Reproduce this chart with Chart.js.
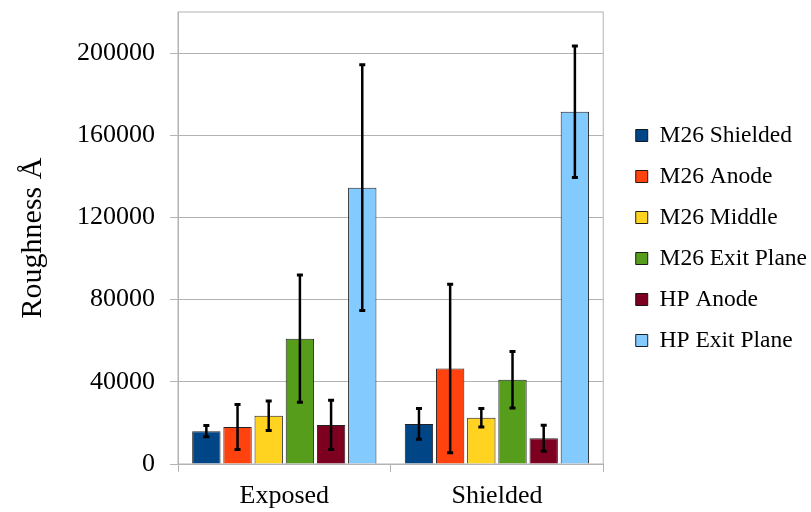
<!DOCTYPE html>
<html>
<head>
<meta charset="utf-8">
<script src="https://cdn.jsdelivr.net/npm/chart.js@4/dist/chart.umd.min.js"></script>
<style>
  html, body { margin: 0; padding: 0; background: #fff; }
  #wrap { width: 811px; height: 512px; }
</style>
</head>
<body>
<div id="wrap"><canvas id="chart"></canvas></div>
<script>
// categories and series
const categories = ['Exposed', 'Shielded'];
const seriesNames = ['M26 Shielded', 'M26 Anode', 'M26 Middle', 'M26 Exit Plane', 'HP Anode', 'HP Exit Plane'];
const seriesColors = ['#004586', '#ff420e', '#ffd320', '#579d1c', '#7e0021', '#83caff'];

const m26Shielded = [16000, 19500];
const m26Anode = [18000, 46500];
const m26Middle = [23500, 22500];
const m26ExitPlane = [61000, 41000];
const hpAnode = [19000, 12500];
const hpExitPlane = [134500, 171500];

// +/- error per bar
const m26ShieldedErr = [2700, 7500];
const m26AnodeErr = [11000, 41000];
const m26MiddleErr = [7200, 4500];
const m26ExitPlaneErr = [31000, 13800];
const hpAnodeErr = [12000, 6300];
const hpExitPlaneErr = [59800, 32000];

const yTicks = [0, 40000, 80000, 120000, 160000, 200000];
const yMax = 220000;

const values = [m26Shielded, m26Anode, m26Middle, m26ExitPlane, hpAnode, hpExitPlane];
const errors = [m26ShieldedErr, m26AnodeErr, m26MiddleErr, m26ExitPlaneErr, hpAnodeErr, hpExitPlaneErr];

const FONT = '"Liberation Serif", "Times New Roman", serif';
const GRID = '#b3b3b3';

// draws the +/- error bars on top of each bar
const errorBars = {
    id: 'errorBars',
    afterDatasetsDraw(chart) {
        const ctx = chart.ctx;
        const y = chart.scales.y;
        ctx.save();
        ctx.strokeStyle = '#000';
        chart.data.datasets.forEach((ds, i) => {
            const meta = chart.getDatasetMeta(i);
            meta.data.forEach((bar, j) => {
                const v = ds.data[j], e = ds.errors[j];
                const top = y.getPixelForValue(v + e);
                const bot = y.getPixelForValue(v - e);
                ctx.lineWidth = 2.5;
                ctx.beginPath();
                ctx.moveTo(bar.x, top);
                ctx.lineTo(bar.x, bot);
                ctx.stroke();
                ctx.lineWidth = 3;
                ctx.beginPath();
                ctx.moveTo(bar.x - 3, top); ctx.lineTo(bar.x + 3, top);
                ctx.moveTo(bar.x - 3, bot); ctx.lineTo(bar.x + 3, bot);
                ctx.stroke();
            });
        });
        ctx.restore();
    }
};

// plot frame + nudge legend away from the plot
const frame = {
    id: 'frame',
    afterLayout(chart) {
        chart.legend.left += 15;
        chart.legend.right += 15;
    },
    beforeDatasetsDraw(chart) {
        const a = chart.chartArea, ctx = chart.ctx;
        ctx.save();
        ctx.strokeStyle = GRID;
        ctx.lineWidth = 1;
        ctx.strokeRect(a.left, a.top, a.right - a.left, a.bottom - a.top);
        ctx.restore();
    }
};

const ctx = document.getElementById('chart').getContext('2d');
new Chart(ctx, {
    type: 'bar',
    data: {
        labels: categories,
        datasets: seriesNames.map((name, i) => ({
            label: name,
            data: values[i],
            errors: errors[i],
            backgroundColor: seriesColors[i],
            borderColor: 'rgba(10,10,10,0.9)',
            borderWidth: 1,
            categoryPercentage: 0.88,
            barPercentage: 0.91
        }))
    },
    options: {
        responsive: true,
        maintainAspectRatio: false,
        animation: false,
        layout: { padding: { top: 12, left: 0, right: 9, bottom: 0 } },
        plugins: {
            tooltip: { enabled: false },
            legend: {
                position: 'right',
                fullSize: false,
                labels: {
                    boxWidth: 12,
                    boxHeight: 12,
                    padding: 17.5,
                    color: '#000',
                    font: { family: FONT, size: 23.5 }
                }
            }
        },
        scales: {
            x: {
                grid: { offset: true, drawOnChartArea: false, color: GRID, tickLength: 8 },
                border: { color: GRID },
                ticks: { color: '#000', padding: 9, font: { family: FONT, size: 26 } },
                afterFit(scale) {
                    scale.height = 48;
                    scale.paddingLeft = 0;
                    scale.paddingRight = 0;
                }
            },
            y: {
                min: 0,
                max: yMax,
                afterBuildTicks(scale) { scale.ticks = yTicks.map(v => ({ value: v })); },
                grid: { color: GRID, tickLength: 8 },
                border: { color: GRID },
                ticks: {
                    color: '#000',
                    padding: 15,
                    font: { family: FONT, size: 26 },
                    callback: v => String(v)
                },
                title: {
                    display: true,
                    text: 'Roughness Å',
                    color: '#000',
                    font: { family: FONT, size: 30 },
                    padding: { top: 15, bottom: 0 }
                },
                afterFit(scale) {
                    scale.width = 178;
                    scale.paddingTop = 0;
                    scale.paddingBottom = 0;
                }
            }
        }
    },
    plugins: [errorBars, frame]
});
</script>
</body>
</html>
